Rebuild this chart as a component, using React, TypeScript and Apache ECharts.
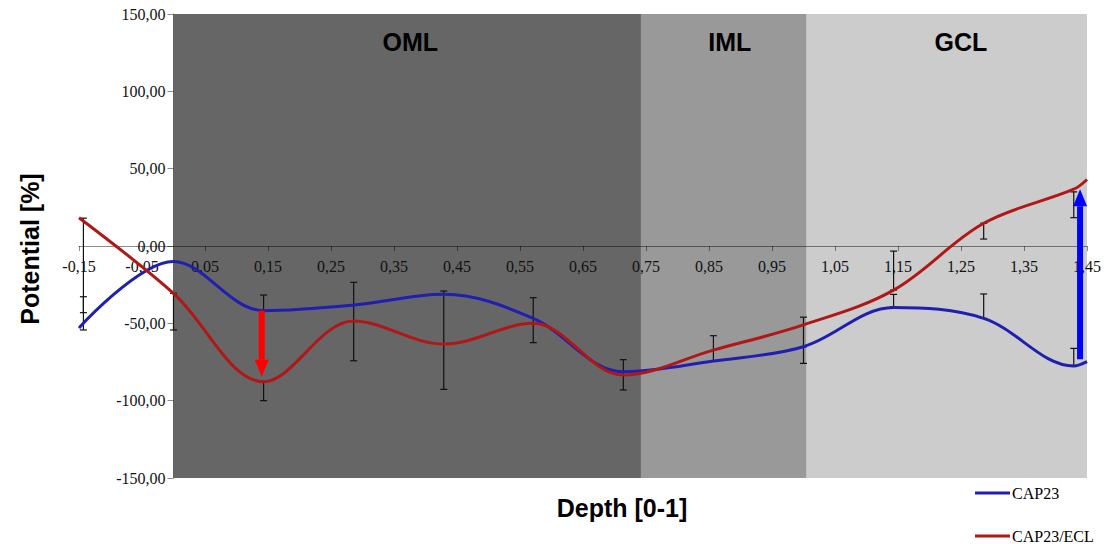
import React, { useEffect, useRef } from "react";
import * as echarts from "echarts";

// ---- data ----
const depthX = [-0.15, 0, 0.143, 0.286, 0.429, 0.571, 0.714, 0.857, 1.0, 1.143, 1.286, 1.429, 1.45];
const cap23 = [-53, -10, -41.8, -38.2, -31.2, -46.8, -81.3, -74.4, -65.1, -39.8, -46.8, -77.6, -74.8];
const cap23Ecl = [18.3, -30.6, -87.8, -48.5, -63.4, -50, -83.4, -67.3, -51, -28.5, 14.7, 36.7, 43];

const errX = [-0.143, 0, 0.143, 0.286, 0.429, 0.571, 0.714, 0.857, 1.0, 1.143, 1.286, 1.429];
const cap23ErrLow = [-54.3, null, -41.8, null, null, null, null, null, -75.9, -39.3, -46.8, -77.6];
const cap23ErrHigh = [-32.8, null, -31.7, null, null, null, null, null, -65.1, -31.3, -31, -66.2];
const eclErrLow = [-43.1, -54.3, -100, -74.2, -92.7, -62.5, -93.1, -74.4, -65, -28.5, 4.5, 18.3];
const eclErrHigh = [18, -30.6, -87.8, -23.5, -29.1, -33.4, -73.5, -58, -46, -3.3, 14.7, 35];

const layerNames = ["OML", "IML", "GCL"];
const layerStart = [0, 0.742, 1.005];
const layerEnd = [0.742, 1.005, 1.45];

const arrowX = [0.14, 1.439];
const arrowFrom = [-41.8, -73.3];
const arrowTo = [-84.5, 36.7];

const seriesNames = ["CAP23", "CAP23/ECL"];

const xTicks = [-0.15, -0.05, 0.05, 0.15, 0.25, 0.35, 0.45, 0.55, 0.65, 0.75, 0.85, 0.95, 1.05, 1.15, 1.25, 1.35, 1.45];

const X_MIN = -0.15;
const X_MAX = 1.45;
const Y_MIN = -150;
const Y_MAX = 150;

// ---- styles ----
const bandColors = ["#666666", "#999999", "#cccccc"];
const bandLabelShift = [[3, 0], [6, 0], [14, 0]];
const arrowColors = ["#ff0000", "#0000ff"];
const blueShades = ["#2424c4", "#1a1a7c", "#1e1e9c", "#2222ac"];
const redShades = ["#c01c1c", "#6b1010", "#a01a1a", "#b81a1a"];
const legendColors = ["#2020b0", "#b01818"];
const legendTops = [485, 528];

const GRID = { left: 79, right: 23, top: 14, bottom: 66 };
const W = 1110;
const H = 544;

const fmt = (v: number) => v.toFixed(2).replace(".", ",").replace("-0,00", "0,00");

export default function App() {
  const ref = useRef<HTMLDivElement>(null);

  useEffect(() => {
    if (!ref.current) return;
    const chart = echarts.init(ref.current, undefined, { renderer: "svg" });

    const gridW = W - GRID.left - GRID.right;
    const gridH = H - GRID.top - GRID.bottom;
    const xAxisOffset = -gridH * (0 - Y_MIN) / (Y_MAX - Y_MIN);
    const yAxisOffset = -gridW * (0 - X_MIN) / (X_MAX - X_MIN);

    const blueData = depthX.map((x, i) => [x, cap23[i]]);
    const redData = depthX.map((x, i) => [x, cap23Ecl[i]]);
    const mkErr = (lo: (number | null)[], hi: (number | null)[]) =>
      errX
        .map((x, i) => (lo[i] == null || hi[i] == null ? null : [x, lo[i], hi[i]]))
        .filter((d) => d !== null);
    const arrowData = arrowX.map((x, i) => [x, arrowFrom[i], arrowTo[i]]);

    const errRender = (params: any, api: any) => {
      const x = api.value(0);
      const pLo = api.coord([x, api.value(1)]);
      const pHi = api.coord([x, api.value(2)]);
      const w = 3.5;
      const st = { stroke: "#111111", lineWidth: 1.2 };
      return {
        type: "group",
        children: [
          { type: "line", shape: { x1: pLo[0], y1: pLo[1], x2: pHi[0], y2: pHi[1] }, style: st },
          { type: "line", shape: { x1: pLo[0] - w, y1: pLo[1], x2: pLo[0] + w, y2: pLo[1] }, style: st },
          { type: "line", shape: { x1: pHi[0] - w, y1: pHi[1], x2: pHi[0] + w, y2: pHi[1] }, style: st },
        ],
      };
    };

    const arrowRender = (params: any, api: any) => {
      const x = api.value(0);
      const p1 = api.coord([x, api.value(1)]);
      const p2 = api.coord([x, api.value(2)]);
      const dir = p2[1] > p1[1] ? 1 : -1;
      const head = 17;
      const hw = 7;
      const sw = 3;
      const baseY = p2[1] - dir * head;
      const color = arrowColors[params.dataIndex % arrowColors.length];
      return {
        type: "group",
        children: [
          {
            type: "rect",
            shape: { x: p1[0] - sw, y: Math.min(p1[1], baseY), width: sw * 2, height: Math.abs(baseY - p1[1]) },
            style: { fill: color },
          },
          {
            type: "polygon",
            shape: { points: [[p2[0], p2[1]], [p2[0] - hw, baseY], [p2[0] + hw, baseY]] },
            style: { fill: color },
          },
        ],
      };
    };

    const piecesFor = (shades: string[]) => [
      { lt: 0, color: shades[0] },
      { gte: 0, lt: layerEnd[0], color: shades[1] },
      { gte: layerStart[1], lt: layerEnd[1], color: shades[2] },
      { gte: layerStart[2], color: shades[3] },
    ];

    const axisLineColor = "rgba(0,0,0,0.45)";
    const labelFont = { fontFamily: "Liberation Serif", fontSize: 16, color: "#111111" };

    chart.setOption({
      animation: false,
      backgroundColor: "#ffffff",
      grid: { ...GRID, containLabel: false },
      xAxis: {
        type: "value",
        min: X_MIN,
        max: X_MAX,
        z: 2,
        offset: xAxisOffset,
        axisLine: { onZero: false, lineStyle: { color: axisLineColor, width: 1 } },
        axisTick: { show: true, length: 5, customValues: xTicks, lineStyle: { color: axisLineColor } },
        axisLabel: { customValues: xTicks, formatter: (v: number) => fmt(v), margin: 12, ...labelFont },
        splitLine: { show: false },
      },
      yAxis: {
        type: "value",
        min: Y_MIN,
        max: Y_MAX,
        interval: 50,
        z: 2,
        offset: yAxisOffset,
        axisLine: { show: true, onZero: false, lineStyle: { color: axisLineColor, width: 1 } },
        axisTick: { show: true, length: 6, lineStyle: { color: axisLineColor } },
        axisLabel: { formatter: (v: number) => fmt(v), margin: 8, ...labelFont },
        splitLine: { show: false },
      },
      legend: seriesNames.map((name, i) => ({
        left: 975,
        top: legendTops[i],
        padding: 0,
        itemWidth: 35,
        itemHeight: 3,
        itemGap: 0,
        textStyle: { fontFamily: "Liberation Serif", fontSize: 16, color: "#000000", padding: [0, 0, 0, -3] },
        data: [{ name, icon: "rect", itemStyle: { color: legendColors[i] } }],
      })),
      visualMap: [
        { type: "piecewise", show: false, dimension: 0, seriesIndex: 1, pieces: piecesFor(blueShades) },
        { type: "piecewise", show: false, dimension: 0, seriesIndex: 2, pieces: piecesFor(redShades) },
      ],
      graphic: [
        {
          type: "text",
          x: 30,
          y: 249,
          rotation: Math.PI / 2,
          style: {
            text: "Potential [%]",
            font: 'bold 25px "Liberation Sans"',
            fill: "#000000",
            align: "center",
            verticalAlign: "middle",
          },
        },
        {
          type: "text",
          x: 622,
          y: 508,
          style: {
            text: "Depth [0-1]",
            font: 'bold 25px "Liberation Sans"',
            fill: "#000000",
            align: "center",
            verticalAlign: "middle",
          },
        },
      ],
      series: [
        {
          name: "layers",
          type: "line",
          z: 1,
          silent: true,
          symbol: "none",
          data: [[0, 0]],
          lineStyle: { opacity: 0 },
          markArea: {
            silent: true,
            data: layerNames.map((n, i) => [
              {
                name: n,
                xAxis: layerStart[i],
                yAxis: Y_MIN,
                itemStyle: { color: bandColors[i] },
                label: {
                  show: true,
                  position: "insideTop",
                  distance: 15,
                  offset: bandLabelShift[i],
                  fontFamily: "Liberation Sans",
                  fontWeight: "bold",
                  fontSize: 25,
                  color: "#000000",
                },
              },
              { xAxis: layerEnd[i], yAxis: Y_MAX },
            ]),
          },
        },
        {
          name: seriesNames[0],
          type: "line",
          z: 4,
          data: blueData,
          smooth: 0.35,
          showSymbol: false,
          symbol: "none",
          lineStyle: { width: 3, color: legendColors[0] },
          itemStyle: { color: legendColors[0] },
        },
        {
          name: seriesNames[1],
          type: "line",
          z: 4,
          data: redData,
          smooth: 0.35,
          showSymbol: false,
          symbol: "none",
          lineStyle: { width: 3, color: legendColors[1] },
          itemStyle: { color: legendColors[1] },
        },
        {
          name: "CAP23 err",
          type: "custom",
          z: 3,
          silent: true,
          renderItem: errRender,
          encode: { x: 0, y: [1, 2] },
          data: mkErr(cap23ErrLow, cap23ErrHigh),
        },
        {
          name: "CAP23/ECL err",
          type: "custom",
          z: 3,
          silent: true,
          renderItem: errRender,
          encode: { x: 0, y: [1, 2] },
          data: mkErr(eclErrLow, eclErrHigh),
        },
        {
          name: "arrows",
          type: "custom",
          z: 6,
          silent: true,
          renderItem: arrowRender,
          encode: { x: 0, y: [1, 2] },
          data: arrowData,
        },
      ],
    });

    return () => chart.dispose();
  }, []);

  return (
    <div
      ref={ref}
      style={{ position: "absolute", left: 0, top: 0, width: W, height: H }}
    />
  );
}
